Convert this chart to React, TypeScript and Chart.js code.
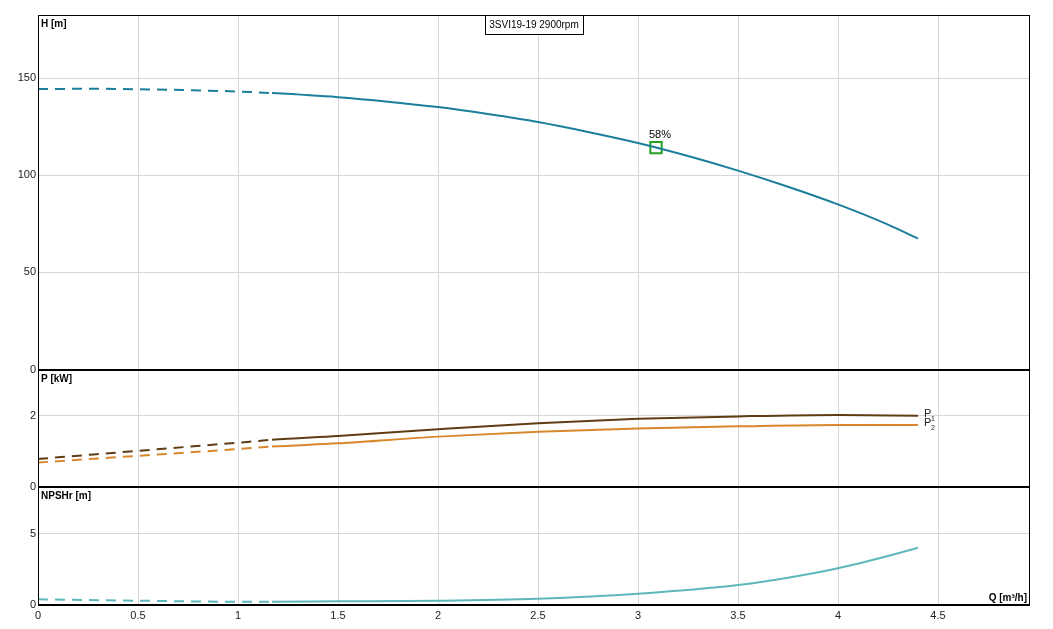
import { useEffect, useRef } from 'react';
import Chart from 'chart.js/auto';

// Q [m³/h] sample points per curve
const qH = [0, 0.25, 0.5, 0.75, 1, 1.17, 1.5, 1.75, 2, 2.25, 2.5, 2.75, 3, 3.25, 3.5, 3.75, 4, 4.25, 4.4];
const headValues = [144.4, 144.5, 144.3, 143.8, 143.1, 142.3, 140.2, 137.9, 135.1, 131.5, 127.4, 122.3, 116.6, 109.9, 102.4, 94.1, 85.0, 74.6, 67.4];

const qP = [0, 0.5, 1, 1.17, 1.5, 2, 2.5, 3, 3.5, 4, 4.4];
const p1Values = [0.78, 1.01, 1.24, 1.32, 1.43, 1.62, 1.79, 1.91, 1.98, 2.02, 2.0];
const p2Values = [0.68, 0.87, 1.06, 1.13, 1.22, 1.41, 1.55, 1.64, 1.7, 1.74, 1.74];

const qN = [0, 0.5, 1, 1.17, 1.5, 2, 2.5, 3, 3.5, 3.75, 4, 4.25, 4.4];
const npshValues = [0.4, 0.3, 0.23, 0.23, 0.26, 0.3, 0.44, 0.79, 1.4, 1.91, 2.57, 3.43, 4.0];

const dutyPoint = { q: 3.09, h: 114.2, label: '58%' };
const dashLimit = 1.17;
const title = '3SVI19-19 2900rpm';

const FONT = '"Liberation Sans", Arial, sans-serif';
const GRID = '#d6d6d6';

const toPoints = (xs: number[], ys: number[]) => xs.map((x, i) => ({ x, y: ys[i] }));

const dashed = {
  borderDash: (ctx: any) => (ctx.p1.parsed.x <= dashLimit + 1e-6 ? [10, 7] : undefined),
};

const overlay = {
  id: 'overlay',
  afterDraw(chart: any) {
    const { ctx, chartArea: a, scales } = chart;
    ctx.save();

    // frame
    ctx.strokeStyle = '#000';
    ctx.lineWidth = 1;
    ctx.strokeRect(a.left + 0.5, a.top + 0.5, a.right - a.left - 1, a.bottom - a.top - 1);

    // panel separators
    ctx.lineWidth = 2;
    for (const id of ['yH', 'yP', 'yN']) {
      const y = Math.round(scales[id].bottom);
      ctx.beginPath();
      ctx.moveTo(a.left, y);
      ctx.lineTo(a.right, y);
      ctx.stroke();
    }

    // axis titles
    ctx.fillStyle = '#000';
    ctx.font = `bold 10px ${FONT}`;
    ctx.textAlign = 'left';
    ctx.textBaseline = 'top';
    ctx.fillText('H [m]', a.left + 3, scales.yH.top + 4);
    ctx.fillText('P [kW]', a.left + 3, scales.yP.top + 5);
    ctx.fillText('NPSHr [m]', a.left + 3, scales.yN.top + 5);
    ctx.textAlign = 'right';
    ctx.textBaseline = 'bottom';
    ctx.fillText('Q [m³/h]', a.right - 3, a.bottom - 2);

    // title box
    ctx.font = `10px ${FONT}`;
    const cx = (a.left + a.right) / 2;
    const w = Math.round(ctx.measureText(title).width + 8);
    const bx = Math.round(cx - w / 2);
    ctx.fillStyle = '#fff';
    ctx.fillRect(bx, a.top, w, 19);
    ctx.strokeStyle = '#000';
    ctx.lineWidth = 1;
    ctx.strokeRect(bx + 0.5, a.top + 0.5, w, 19);
    ctx.fillStyle = '#000';
    ctx.textAlign = 'center';
    ctx.textBaseline = 'middle';
    ctx.fillText(title, cx, a.top + 10);

    // duty point label
    const mk = chart.getDatasetMeta(4).data[0];
    ctx.font = `11px ${FONT}`;
    ctx.textAlign = 'center';
    ctx.textBaseline = 'bottom';
    ctx.fillText(dutyPoint.label, mk.x + 4, mk.y - 7);

    // P1 / P2 labels
    const drawP = (idx: number, sub: string) => {
      const pts = chart.getDatasetMeta(idx).data;
      const last = pts[pts.length - 1];
      ctx.textAlign = 'left';
      ctx.textBaseline = 'middle';
      ctx.font = `11px ${FONT}`;
      ctx.fillStyle = '#222';
      ctx.fillText('P', last.x + 6, last.y - 2);
      ctx.font = `7px ${FONT}`;
      ctx.fillText(sub, last.x + 13, last.y + 3);
    };
    drawP(1, '1');
    drawP(2, '2');

    ctx.restore();
  },
};

const App = () => {
  const canvasRef = useRef<HTMLCanvasElement>(null);
  const chartRef = useRef<Chart | null>(null);

  useEffect(() => {
    document.body.style.margin = '0';
    if (!canvasRef.current) return;
    if (chartRef.current) chartRef.current.destroy();

    const lineBase = {
      pointRadius: 0,
      borderWidth: 2,
      cubicInterpolationMode: 'monotone' as const,
      fill: false,
      segment: dashed,
    };

    const plain = (v: any) => `${v}`;
    const yTicks = { color: '#222', font: { family: FONT, size: 11 }, padding: 2, includeBounds: false, callback: plain };

    chartRef.current = new Chart(canvasRef.current, {
      type: 'line',
      data: {
        datasets: [
          { ...lineBase, data: toPoints(qH, headValues), yAxisID: 'yH', borderColor: '#1b7f9b' },
          { ...lineBase, data: toPoints(qP, p1Values), yAxisID: 'yP', borderColor: '#603c14' },
          { ...lineBase, data: toPoints(qP, p2Values), yAxisID: 'yP', borderColor: '#d8882c' },
          { ...lineBase, data: toPoints(qN, npshValues), yAxisID: 'yN', borderColor: '#5db7bd' },
          {
            data: [{ x: dutyPoint.q, y: dutyPoint.h }],
            yAxisID: 'yH',
            showLine: false,
            pointStyle: 'rect',
            pointRadius: 8,
            pointBorderWidth: 2,
            pointBorderColor: '#22a022',
            pointBackgroundColor: 'rgba(0,0,0,0)',
          },
        ],
      },
      options: {
        animation: false,
        responsive: true,
        maintainAspectRatio: false,
        layout: { padding: { left: 0, top: 15, right: 23, bottom: 0 } },
        plugins: { legend: { display: false }, tooltip: { enabled: false } },
        scales: {
          x: {
            type: 'linear',
            min: 0,
            max: 4.96,
            ticks: { stepSize: 0.5, includeBounds: false, color: '#222', font: { family: FONT, size: 11 }, padding: 4, callback: plain },
            grid: { color: GRID, drawTicks: false },
            border: { display: false },
            afterFit: (s: any) => { s.height = 24; },
          },
          yH: {
            type: 'linear',
            position: 'left',
            stack: 'panels',
            stackWeight: 354.5,
            weight: 3,
            min: 0,
            max: 182.5,
            ticks: { ...yTicks, stepSize: 50 },
            grid: { color: GRID, drawTicks: false },
            border: { display: false },
            afterFit: (s: any) => { s.width = 38; },
          },
          yP: {
            type: 'linear',
            position: 'left',
            stack: 'panels',
            stackWeight: 117.2,
            weight: 2,
            min: 0,
            max: 3.3,
            ticks: { ...yTicks, stepSize: 2 },
            grid: { color: GRID, drawTicks: false },
            border: { display: false },
            afterFit: (s: any) => { s.width = 38; },
          },
          yN: {
            type: 'linear',
            position: 'left',
            stack: 'panels',
            stackWeight: 118.3,
            weight: 1,
            min: 0,
            max: 8.27,
            ticks: { ...yTicks, stepSize: 5 },
            grid: { color: GRID, drawTicks: false },
            border: { display: false },
            afterFit: (s: any) => { s.width = 38; },
          },
        },
      },
      plugins: [overlay],
    });

    return () => {
      if (chartRef.current) {
        chartRef.current.destroy();
        chartRef.current = null;
      }
    };
  }, []);

  return (
    <div style={{ position: 'relative', width: 1053, height: 629 }}>
      <canvas ref={canvasRef} />
    </div>
  );
};

export default App;
